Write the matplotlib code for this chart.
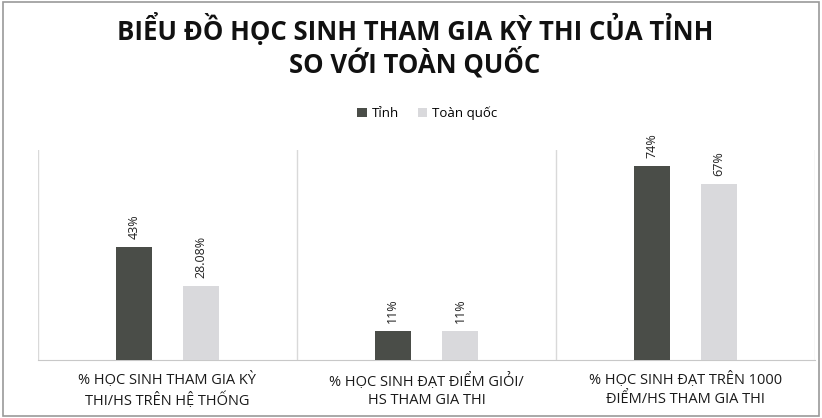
import numpy as np
import matplotlib
matplotlib.use('Agg')
import matplotlib.pyplot as plt

plt.rcParams['font.family'] = ['Open Sans', 'Noto Sans', 'DejaVu Sans']

# data
categories = ['% HỌC SINH THAM GIA KỲ\nTHI/HS TRÊN HỆ THỐNG',
              '% HỌC SINH ĐẠT ĐIỂM GIỎI/\nHS THAM GIA THI',
              '% HỌC SINH ĐẠT TRÊN 1000\nĐIỂM/HS THAM GIA THI']
series_names = ['Tỉnh', 'Toàn quốc']
tinh = [43, 11, 74]
toan_quoc = [28.08, 11, 67]
tinh_labels = ['43%', '11%', '74%']
toan_quoc_labels = ['28.08%', '11%', '67%']

colors = ['#4a4d48', '#d9d9dc']

fig = plt.figure(figsize=(8.22, 4.18), dpi=100)
ax = fig.add_axes([38/822, 1-360/418, 777/822, 210/418])

x = np.arange(len(categories))
w = 0.14
off = 0.13
b1 = ax.bar(x - off, tinh, w, color=colors[0], label=series_names[0], zorder=3)
b2 = ax.bar(x + off, toan_quoc, w, color=colors[1], label=series_names[1], zorder=3)

for bars, labs in [(b1, tinh_labels), (b2, toan_quoc_labels)]:
    for r, lab in zip(bars, labs):
        ax.text(r.get_x() + r.get_width()/2, r.get_height() + 3, lab,
                rotation=90, ha='center', va='bottom', fontsize=9, color='#222222')

ax.set_xlim(-0.5, len(categories) - 0.5)
ax.set_ylim(0, 80)
ax.set_yticks([])
ax.set_xticks(x)
ax.set_xticklabels(categories, fontsize=10.5, color='#1a1a1a', linespacing=1.3)
ax.tick_params(axis='x', length=0, pad=9)

# category separators
for xs in np.arange(-0.5, len(categories), 1.0):
    ax.axvline(xs, color='#d9d9d9', lw=1, zorder=1)
for s in ['top', 'left', 'right']:
    ax.spines[s].set_visible(False)
ax.spines['bottom'].set_color('#c8c8c8')

fig.text(0.505, 1-46/418, 'BIỂU ĐỒ HỌC SINH THAM GIA KỲ THI CỦA TỈNH\nSO VỚI TOÀN QUỐC',
         ha='center', va='center', fontsize=18.5, fontweight='bold', color='#111111',
         linespacing=1.05)

fig.legend(handles=[b1, b2], labels=series_names, loc='center',
           bbox_to_anchor=(0.52, 1-113/418), ncol=2, frameon=False,
           fontsize=9.5, handlelength=0.7, handleheight=0.7, columnspacing=1.4,
           handletextpad=0.4)

# outer frame
fig.patches.append(plt.Rectangle((0.004, 0.004), 0.992, 0.992, transform=fig.transFigure,
                                 fill=False, edgecolor='#9a9a9a', lw=1.2))

fig.savefig('out.png', dpi=100)
